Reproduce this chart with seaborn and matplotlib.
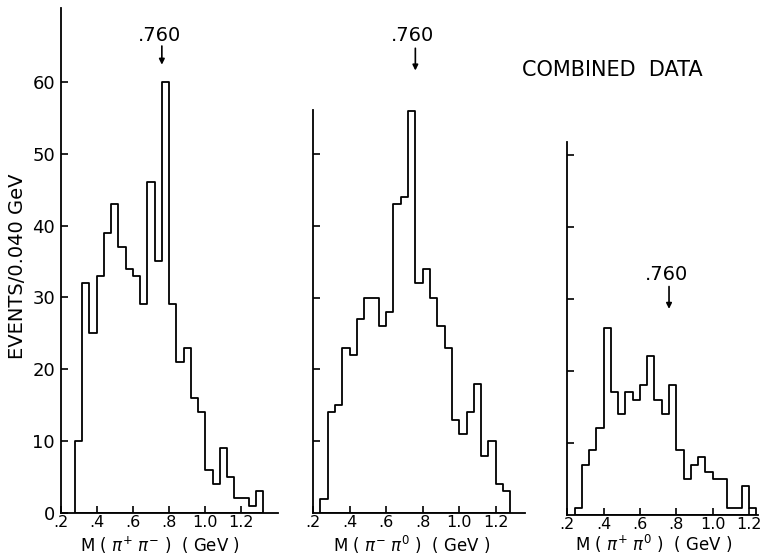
import numpy as np
import pandas as pd
import matplotlib
matplotlib.use("Agg")
import matplotlib.pyplot as plt
import seaborn as sns

# ─── Data (events per 0.040 GeV bin) ─────────────────────────────────────────
BIN_WIDTH = 0.04
RHO_MASS = 0.760

# M(pi+ pi-)
PIPM_START = 0.28
PIPM_COUNTS = [10, 32, 25, 33, 39, 43, 37, 34, 33, 29, 46, 35, 60,
               29, 21, 23, 16, 14, 6, 4, 9, 5, 2, 2, 1, 3]

# M(pi- pi0)
PIM0_START = 0.24
PIM0_COUNTS = [2, 14, 15, 23, 22, 27, 30, 30, 26, 28, 43, 44, 56,
               32, 34, 30, 26, 23, 13, 11, 14, 18, 8, 10, 4, 3]

# M(pi+ pi0)
PIP0_START = 0.24
PIP0_COUNTS = [1, 7, 9, 12, 26, 17, 14, 17, 16, 18, 22, 16, 14,
               18, 9, 5, 7, 8, 6, 5, 5, 1, 1, 4, 1]

X_TICKS = [0.2, 0.4, 0.6, 0.8, 1.0, 1.2]
X_TICK_LABELS = [".2", ".4", ".6", ".8", "1.0", "1.2"]
Y_TICKS = [0, 10, 20, 30, 40, 50, 60]


def draw_panel(ax, start, counts, xmax, ymax, xlabel, label_xy,
               annot_y, show_ylabels):
    edges = start + BIN_WIDTH * np.arange(len(counts) + 1)
    df = pd.DataFrame({"mass": edges[:-1] + BIN_WIDTH / 2,
                       "events": counts})
    sns.histplot(data=df, x="mass", weights="events",
                 bins=[float(e) for e in edges], element="step",
                 fill=True, color="black", facecolor="none",
                 edgecolor="black", linewidth=1.3, ax=ax)

    ax.set_xlim(0.2, xmax)
    ax.set_ylim(0, ymax)
    sns.despine(ax=ax)
    for side in ("left", "bottom"):
        ax.spines[side].set_linewidth(1.3)
        ax.spines[side].set_color("black")

    ax.set_xticks(X_TICKS)
    ax.set_xticklabels(X_TICK_LABELS)
    ax.set_yticks(Y_TICKS if show_ylabels else Y_TICKS[1:6])
    if not show_ylabels:
        ax.set_yticklabels([])
    ax.tick_params(axis="both", direction="in", length=5, width=1.2,
                   color="black", labelcolor="black")
    ax.tick_params(axis="x", labelsize=11.5, pad=1.5)
    ax.tick_params(axis="y", labelsize=13, pad=4)

    ax.set_ylabel("")
    ax.set_xlabel(xlabel, fontsize=12, va="center")
    ax.xaxis.set_label_coords(*label_xy)

    # rho mass marker
    y_text, y_top, y_tip = annot_y
    ax.text(RHO_MASS - 0.015, y_text, ".760", ha="center", va="center",
            fontsize=14)
    ax.annotate("", xy=(RHO_MASS, y_tip), xytext=(RHO_MASS, y_top),
                arrowprops=dict(arrowstyle="-|>", color="black", lw=1.2,
                                mutation_scale=8, shrinkA=0, shrinkB=0),
                annotation_clip=False)


sns.set_style("ticks")
plt.rcParams["font.family"] = ["DejaVu Sans"]
plt.rcParams["mathtext.fontset"] = "dejavusans"
plt.rcParams["text.color"] = "black"
plt.rcParams["axes.labelcolor"] = "black"

fig = plt.figure(figsize=(7.66, 5.58), dpi=100)
ax1 = fig.add_axes([0.079, 0.0812, 0.2835, 0.9045])
ax2 = fig.add_axes([0.4086, 0.0806, 0.2768, 0.7222])
ax3 = fig.add_axes([0.7406, 0.0771, 0.2490, 0.6690])

draw_panel(ax1, PIPM_START, PIPM_COUNTS, 1.40, 70.3,
           r"M ( $\pi^{+}\ \pi^{-}$ )  ( GeV )", (0.458, -0.064),
           (66.5, 65.0, 62.4), True)
draw_panel(ax2, PIM0_START, PIM0_COUNTS, 1.36, 56.1,
           r"M ( $\pi^{-}\ \pi^{0}$ )  ( GeV )", (0.465, -0.079),
           (66.5, 64.7, 61.6), False)
draw_panel(ax3, PIP0_START, PIP0_COUNTS, 1.25, 51.8,
           r"M ( $\pi^{+}\ \pi^{0}$ )  ( GeV )", (0.453, -0.078),
           (33.3, 31.7, 28.6), False)

ax1.set_ylabel("EVENTS/0.040 GeV", fontsize=14, va="center")
ax1.yaxis.set_label_coords(-0.196, 0.489)

fig.text(0.799, 0.8746, "COMBINED  DATA", ha="center", va="center",
         fontsize=15)

fig.savefig("out.png", dpi=100, facecolor="white")
plt.close(fig)
